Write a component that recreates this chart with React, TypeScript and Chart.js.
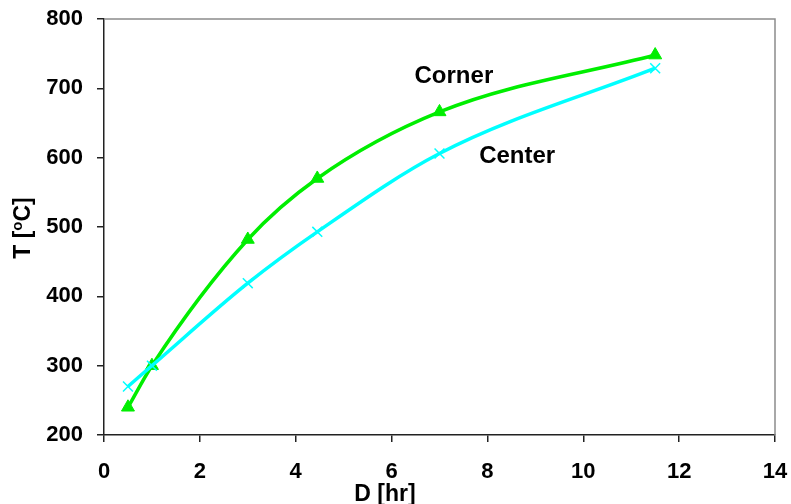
import React, { useEffect, useRef } from "react";
import { Chart, registerables } from "chart.js";

Chart.register(...registerables);

const hours = [0.5, 1, 3, 4.45, 7, 11.5];
const cornerTemps = [240, 300, 482, 570, 666, 748];
const centerTemps = [270, 300, 419, 493, 606, 729];
const seriesNames = ["Corner", "Center"];
const xTicks = [0, 2, 4, 6, 8, 10, 12, 14];
const yTicks = [200, 300, 400, 500, 600, 700, 800];
const xTitle = "D [hr]";
const yTitleParts = ["T [", "o", "C]"];

const FONT = "'Liberation Sans', Arial, sans-serif";

const overlayPlugin = {
  id: "overlay",
  afterDraw(chart: any) {
    const ctx = chart.ctx as CanvasRenderingContext2D;
    const { left, right, top, bottom } = chart.chartArea;
    const xs = chart.scales.x;
    const ys = chart.scales.y;
    ctx.save();
    // gray frame top / right
    ctx.strokeStyle = "#8c8c8c";
    ctx.lineWidth = 1.5;
    ctx.beginPath();
    ctx.moveTo(left, top);
    ctx.lineTo(right, top);
    ctx.lineTo(right, bottom);
    ctx.stroke();
    // series labels
    ctx.fillStyle = "#000";
    ctx.font = `bold 24px ${FONT}`;
    ctx.textAlign = "center";
    ctx.textBaseline = "alphabetic";
    ctx.fillText(seriesNames[0], xs.getPixelForValue(7.3), ys.getPixelForValue(708));
    ctx.fillText(seriesNames[1], xs.getPixelForValue(8.62), ys.getPixelForValue(592));
    // x title
    ctx.font = `bold 23px ${FONT}`;
    ctx.fillText(xTitle, 385, 501);
    // y title rotated
    ctx.translate(30, 228);
    ctx.rotate(-Math.PI / 2);
    ctx.textAlign = "left";
    ctx.font = `bold 23px ${FONT}`;
    const w0 = ctx.measureText(yTitleParts[0]).width;
    ctx.font = `bold 15px ${FONT}`;
    const w1 = ctx.measureText(yTitleParts[1]).width;
    ctx.font = `bold 23px ${FONT}`;
    const w2 = ctx.measureText(yTitleParts[2]).width;
    const total = w0 + w1 + w2;
    let x = -total / 2;
    ctx.fillText(yTitleParts[0], x, 0);
    x += w0;
    ctx.font = `bold 15px ${FONT}`;
    ctx.fillText(yTitleParts[1], x, -8);
    x += w1;
    ctx.font = `bold 23px ${FONT}`;
    ctx.fillText(yTitleParts[2], x, 0);
    ctx.restore();
  },
};

const zeroPad = (s: any) => {
  s.paddingTop = 0;
  s.paddingBottom = 0;
  s.paddingLeft = 0;
  s.paddingRight = 0;
};

export default function App() {
  const ref = useRef<HTMLCanvasElement>(null);
  useEffect(() => {
    document.body.style.margin = "0";
    const canvas = ref.current!;
    const chart = new Chart(canvas, {
      type: "line",
      data: {
        datasets: [
          {
            label: seriesNames[1],
            data: hours.map((h, i) => ({ x: h, y: centerTemps[i] })),
            borderColor: "#00ffff",
            backgroundColor: "#00ffff",
            borderWidth: 3.5,
            cubicInterpolationMode: "monotone",
            pointStyle: "crossRot",
            pointRadius: 7,
            pointBorderWidth: 1.5,
            pointBorderColor: "#00ffff",
            fill: false,
          },
          {
            label: seriesNames[0],
            data: hours.map((h, i) => ({ x: h, y: cornerTemps[i] })),
            borderColor: "#00ee00",
            backgroundColor: "#00ee00",
            borderWidth: 3.5,
            cubicInterpolationMode: "monotone",
            pointStyle: "triangle",
            pointRadius: 7.5,
            pointBorderWidth: 1,
            pointBorderColor: "#00ee00",
            fill: false,
          },
        ],
      },
      options: {
        animation: false,
        responsive: true,
        maintainAspectRatio: false,
        layout: { padding: { top: 19, right: 16, left: 0, bottom: 0 } },
        plugins: {
          legend: { display: false },
          tooltip: { enabled: false },
        },
        scales: {
          x: {
            type: "linear",
            min: 0,
            max: 14,
            afterBuildTicks: (s: any) => {
              s.ticks = xTicks.map((v) => ({ value: v }));
            },
            afterFit: (s: any) => {
              s.height = 69;
              zeroPad(s);
            },
            ticks: {
              color: "#000",
              font: { family: FONT, size: 22, weight: "bold" },
              padding: 17,
              maxRotation: 0,
            },
            grid: {
              drawOnChartArea: false,
              drawTicks: true,
              tickLength: 7,
              color: "#222",
              lineWidth: 1.5,
            },
            border: { color: "#222", width: 1.5 },
          },
          y: {
            type: "linear",
            min: 200,
            max: 800,
            afterBuildTicks: (s: any) => {
              s.ticks = yTicks.map((v) => ({ value: v }));
            },
            afterFit: (s: any) => {
              s.width = 104;
              zeroPad(s);
            },
            ticks: {
              color: "#000",
              font: { family: FONT, size: 22, weight: "bold" },
              padding: 14,
            },
            grid: {
              drawOnChartArea: false,
              drawTicks: true,
              tickLength: 7,
              color: "#222",
              lineWidth: 1.5,
            },
            border: { color: "#222", width: 1.5 },
          },
        },
      },
      plugins: [overlayPlugin],
    } as any);
    return () => chart.destroy();
  }, []);
  return (
    <div style={{ position: "relative", width: 791, height: 504 }}>
      <canvas ref={ref} />
    </div>
  );
}
